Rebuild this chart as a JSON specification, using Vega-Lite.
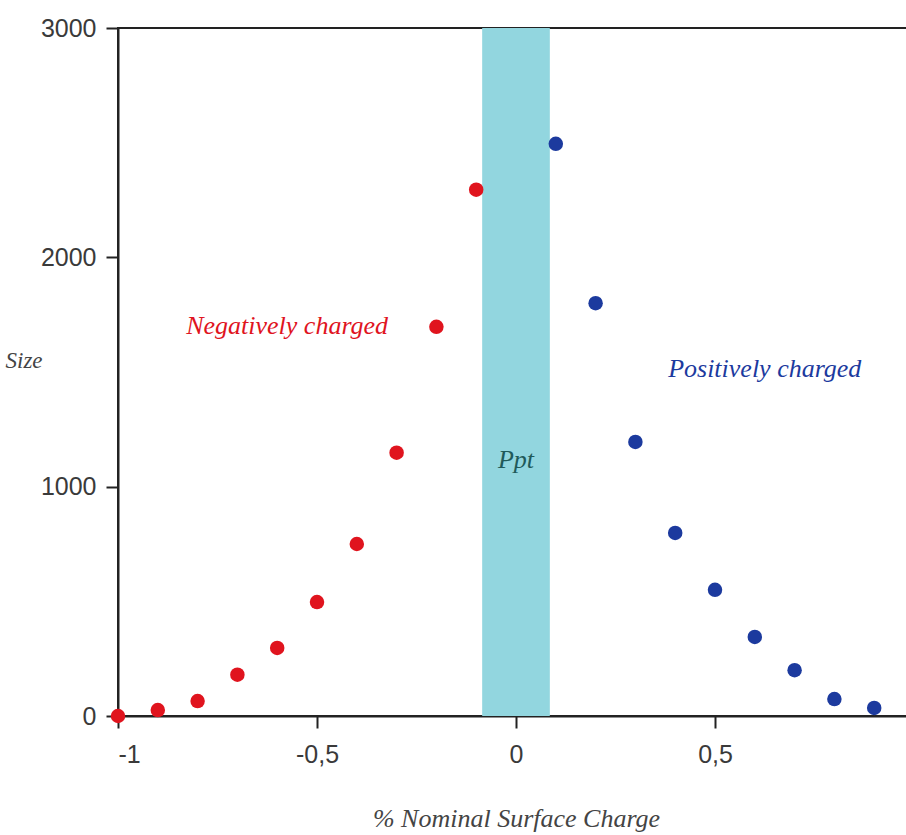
{
  "$schema": "https://vega.github.io/schema/vega-lite/v6.json",
  "width": 796,
  "height": 688,
  "autosize": {"type": "none"},
  "padding": {"left": 118, "top": 28, "right": 0, "bottom": 119},
  "background": "white",
  "config": {
    "view": {"stroke": "#222", "strokeWidth": 2},
    "axis": {
      "domainColor": "#222", "domainWidth": 2, "tickColor": "#222", "tickWidth": 2,
      "labelFont": "Liberation Sans", "labelFontSize": 25, "labelColor": "#3a3a3a",
      "grid": false
    }
  },
  "datasets": {
    "points": [
      {"charge": -1.0, "size": 0, "group": "Negative"},
      {"charge": -0.9, "size": 26, "group": "Negative"},
      {"charge": -0.8, "size": 65, "group": "Negative"},
      {"charge": -0.7, "size": 180, "group": "Negative"},
      {"charge": -0.6, "size": 297, "group": "Negative"},
      {"charge": -0.5, "size": 497, "group": "Negative"},
      {"charge": -0.4, "size": 750, "group": "Negative"},
      {"charge": -0.3, "size": 1148, "group": "Negative"},
      {"charge": -0.2, "size": 1697, "group": "Negative"},
      {"charge": -0.1, "size": 2295, "group": "Negative"},
      {"charge": 0.1, "size": 2495, "group": "Positive"},
      {"charge": 0.2, "size": 1800, "group": "Positive"},
      {"charge": 0.3, "size": 1195, "group": "Positive"},
      {"charge": 0.4, "size": 798, "group": "Positive"},
      {"charge": 0.5, "size": 550, "group": "Positive"},
      {"charge": 0.6, "size": 345, "group": "Positive"},
      {"charge": 0.7, "size": 200, "group": "Positive"},
      {"charge": 0.8, "size": 74, "group": "Positive"},
      {"charge": 0.9, "size": 35, "group": "Positive"}
    ],
    "band": [{"start": -0.085, "end": 0.085}],
    "labels": [
      {"charge": -0.575, "size": 1700, "text": "Negatively charged", "group": "Negative"},
      {"charge": 0.625, "size": 1515, "text": "Positively charged", "group": "Positive"},
      {"charge": 0.0, "size": 1115, "text": "Ppt", "group": "Ppt"}
    ]
  },
  "layer": [
    {
      "data": {"name": "band"},
      "mark": {"type": "rect", "color": "#92d6df"},
      "encoding": {
        "x": {"field": "start", "type": "quantitative", "scale": {"domain": [-1, 1], "nice": false, "zero": false}},
        "x2": {"field": "end"}
      }
    },
    {
      "data": {"name": "points"},
      "mark": {"type": "circle", "size": 210, "opacity": 1},
      "encoding": {
        "x": {
          "field": "charge", "type": "quantitative",
          "scale": {"domain": [-1, 1], "nice": false, "zero": false},
          "axis": {
            "values": [-1, -0.5, 0, 0.5],
            "labelExpr": "replace(toString(datum.value), '.', ',')",
            "tickSize": 12, "labelPadding": 14,
            "title": "% Nominal Surface Charge",
            "titleFont": "Liberation Serif", "titleFontStyle": "italic", "titleFontWeight": "normal",
            "titleFontSize": 26, "titleColor": "#444", "titleX": 398, "titleY": 102, "titleBaseline": "middle"
          }
        },
        "y": {
          "field": "size", "type": "quantitative",
          "scale": {"domain": [0, 3000], "nice": false},
          "axis": {
            "values": [0, 1000, 2000, 3000], "format": "d",
            "tickSize": 12, "labelPadding": 10,
            "title": "Size", "titleAngle": 0, "titleAlign": "left", "titleBaseline": "middle",
            "titleX": -113, "titleY": 332,
            "titleFont": "Liberation Serif", "titleFontStyle": "italic", "titleFontWeight": "normal",
            "titleFontSize": 23, "titleColor": "#444"
          }
        },
        "color": {
          "field": "group", "type": "nominal",
          "scale": {"domain": ["Negative", "Positive", "Ppt"], "range": ["#e0141e", "#1c3a9e", "#1f5a5a"]},
          "legend": null
        }
      }
    },
    {
      "data": {"name": "labels"},
      "mark": {"type": "text", "font": "Liberation Serif", "fontStyle": "italic", "fontSize": 26, "align": "center", "baseline": "middle"},
      "encoding": {
        "x": {"field": "charge", "type": "quantitative"},
        "y": {"field": "size", "type": "quantitative"},
        "text": {"field": "text"},
        "color": {"field": "group", "type": "nominal", "legend": null}
      }
    }
  ]
}
